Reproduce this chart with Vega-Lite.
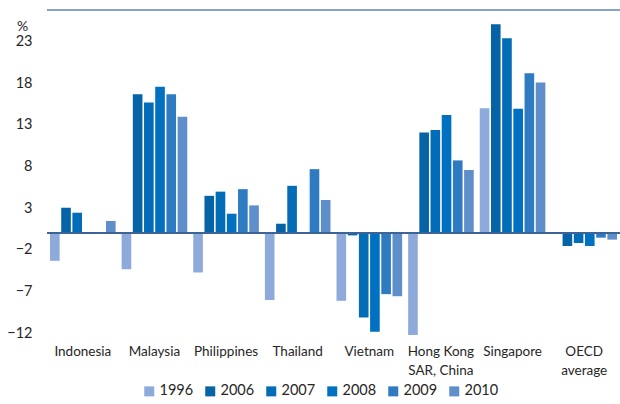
{
  "$schema": "https://vega.github.io/schema/vega-lite/v6.json",
  "width": 573,
  "height": 323.3,
  "autosize": {"type": "none"},
  "padding": {"left": 47, "top": 10, "right": 0, "bottom": 70.7},
  "config": {
    "font": "Lato",
    "view": {"stroke": null},
    "axis": {"labelColor": "#262626", "titleColor": "#262626"},
    "legend": {"labelColor": "#262626"}
  },
  "data": {
    "values": [
      {"country": "Indonesia", "year": "1996", "value": -3.3},
      {"country": "Indonesia", "year": "2006", "value": 3.07},
      {"country": "Indonesia", "year": "2007", "value": 2.47},
      {"country": "Indonesia", "year": "2008", "value": 0.15},
      {"country": "Indonesia", "year": "2010", "value": 1.48},
      {"country": "Malaysia", "year": "1996", "value": -4.3},
      {"country": "Malaysia", "year": "2006", "value": 16.7},
      {"country": "Malaysia", "year": "2007", "value": 15.7},
      {"country": "Malaysia", "year": "2008", "value": 17.6},
      {"country": "Malaysia", "year": "2009", "value": 16.7},
      {"country": "Malaysia", "year": "2010", "value": 14.0},
      {"country": "Philippines", "year": "1996", "value": -4.7},
      {"country": "Philippines", "year": "2006", "value": 4.5},
      {"country": "Philippines", "year": "2007", "value": 5.0},
      {"country": "Philippines", "year": "2008", "value": 2.35},
      {"country": "Philippines", "year": "2009", "value": 5.3},
      {"country": "Philippines", "year": "2010", "value": 3.35},
      {"country": "Thailand", "year": "1996", "value": -8.0},
      {"country": "Thailand", "year": "2006", "value": 1.15},
      {"country": "Thailand", "year": "2007", "value": 5.7},
      {"country": "Thailand", "year": "2009", "value": 7.7},
      {"country": "Thailand", "year": "2010", "value": 4.0},
      {"country": "Vietnam", "year": "1996", "value": -8.1},
      {"country": "Vietnam", "year": "2006", "value": -0.25},
      {"country": "Vietnam", "year": "2007", "value": -10.1},
      {"country": "Vietnam", "year": "2008", "value": -11.8},
      {"country": "Vietnam", "year": "2009", "value": -7.3},
      {"country": "Vietnam", "year": "2010", "value": -7.55},
      {"country": "Hong Kong SAR, China", "year": "1996", "value": -12.2},
      {"country": "Hong Kong SAR, China", "year": "2006", "value": 12.1},
      {"country": "Hong Kong SAR, China", "year": "2007", "value": 12.4},
      {"country": "Hong Kong SAR, China", "year": "2008", "value": 14.2},
      {"country": "Hong Kong SAR, China", "year": "2009", "value": 8.75},
      {"country": "Hong Kong SAR, China", "year": "2010", "value": 7.6},
      {"country": "Singapore", "year": "1996", "value": 15.0},
      {"country": "Singapore", "year": "2006", "value": 25.1},
      {"country": "Singapore", "year": "2007", "value": 23.4},
      {"country": "Singapore", "year": "2008", "value": 14.95},
      {"country": "Singapore", "year": "2009", "value": 19.2},
      {"country": "Singapore", "year": "2010", "value": 18.1},
      {"country": "OECD average", "year": "1996", "value": 0.08},
      {"country": "OECD average", "year": "2006", "value": -1.52},
      {"country": "OECD average", "year": "2007", "value": -1.16},
      {"country": "OECD average", "year": "2008", "value": -1.52},
      {"country": "OECD average", "year": "2009", "value": -0.52},
      {"country": "OECD average", "year": "2010", "value": -0.76}
    ]
  },
  "encoding": {
    "y": {
      "type": "quantitative",
      "scale": {"domain": [-12, 26.8], "nice": false, "zero": false},
      "axis": {
        "values": [-12, -7, -2, 3, 8, 13, 18, 23],
        "title": "%",
        "titleAngle": 0,
        "titleX": -25,
        "titleY": 20,
        "titleAlign": "center",
        "titleBaseline": "alphabetic",
        "titleFontWeight": "normal",
        "titleFontSize": 14,
        "labelFontSize": 14.5,
        "labelPadding": 15,
        "ticks": false,
        "domain": false,
        "gridColor": "#b8c7dc",
        "gridWidth": 1
      }
    }
  },
  "layer": [
    {
      "mark": {"type": "rule", "color": "#86a3c9", "strokeWidth": 1},
      "encoding": {"y": {"datum": 26.8}}
    },
    {
      "mark": {"type": "bar"},
      "encoding": {
        "x": {
          "field": "country",
          "type": "nominal",
          "sort": ["Indonesia", "Malaysia", "Philippines", "Thailand", "Vietnam", "Hong Kong SAR, China", "Singapore", "OECD average"],
          "scale": {"paddingInner": 0.084, "paddingOuter": 0.042},
          "axis": {
            "title": null,
            "labelAngle": 0,
            "labelFontSize": 13.5,
            "labelPadding": 11,
            "labelLineHeight": 19,
            "labelBaseline": "top",
            "labelLimit": 0,
            "ticks": false,
            "domain": false,
            "grid": false,
            "labelExpr": "datum.label == 'Hong Kong SAR, China' ? ['Hong Kong', 'SAR, China'] : datum.label == 'OECD average' ? ['OECD', 'average'] : datum.label"
          }
        },
        "xOffset": {
          "field": "year",
          "type": "nominal",
          "sort": ["1996", "2006", "2007", "2008", "2009", "2010"],
          "scale": {"paddingInner": 0.14, "paddingOuter": 0}
        },
        "y": {"field": "value", "type": "quantitative"},
        "color": {
          "field": "year",
          "type": "nominal",
          "sort": ["1996", "2006", "2007", "2008", "2009", "2010"],
          "scale": {
            "domain": ["1996", "2006", "2007", "2008", "2009", "2010"],
            "range": ["#8eaadb", "#0563a6", "#026cb6", "#0070c0", "#2e7bc2", "#5f8fcb"]
          },
          "legend": {
            "title": null,
            "orient": "none",
            "direction": "horizontal",
            "legendX": 95,
            "legendY": 374,
            "symbolType": "square",
            "symbolSize": 100,
            "symbolStrokeWidth": 0,
            "labelFontSize": 14.5,
            "labelOffset": 3,
            "columnPadding": 9
          }
        }
      }
    },
    {
      "mark": {"type": "rule", "color": "#3f6596", "strokeWidth": 1},
      "encoding": {"y": {"datum": 0}}
    }
  ]
}
